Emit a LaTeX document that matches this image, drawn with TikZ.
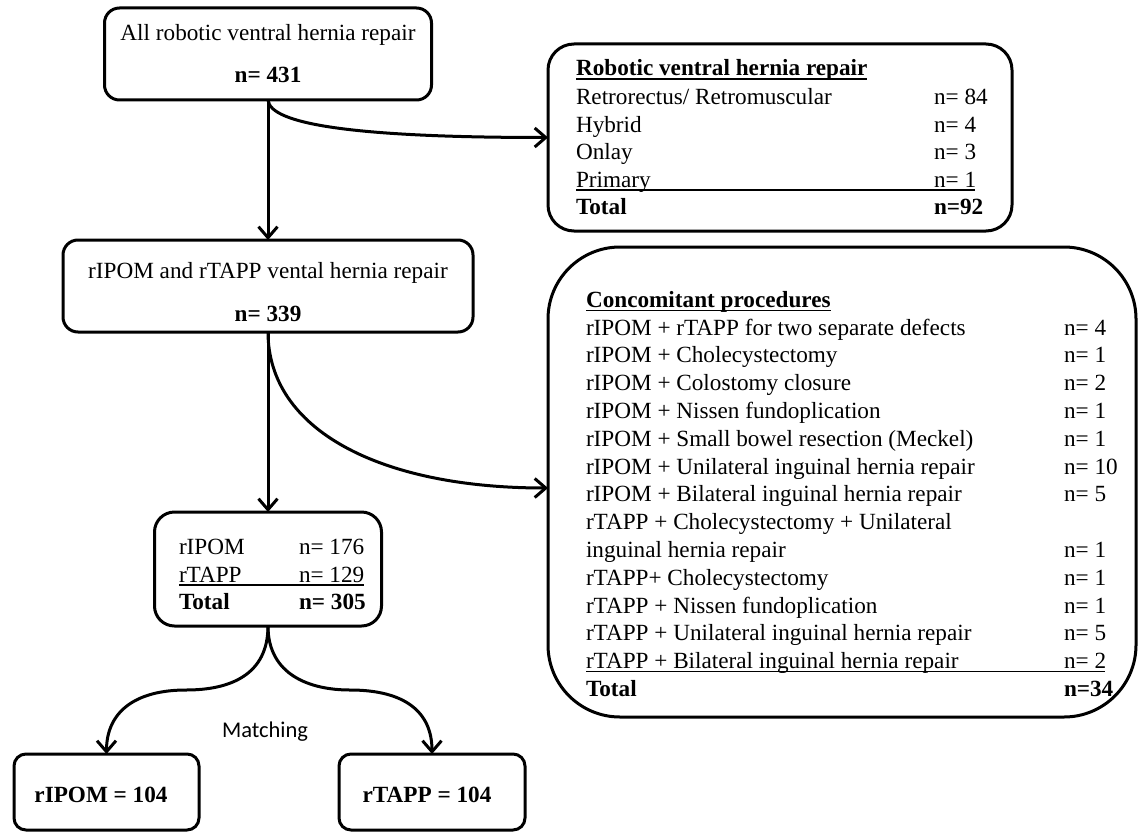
\documentclass[tikz,border=0pt]{standalone}
\usepackage{fontspec}
\setmainfont{Liberation Serif}
\newfontfamily\matchfont{Carlito}
\usetikzlibrary{arrows.meta}
\begin{document}
\begin{tikzpicture}[x=1pt,y=-1pt,
  box/.style={draw, line width=3pt, rounded corners=#1, inner sep=0pt, outer sep=0pt},
  box/.default=15pt,
  txt/.style={inner sep=0pt, outer sep=0pt, font=\fontsize{23.2}{27.6}\selectfont},
  btxt/.style={inner sep=0pt, outer sep=0pt, font=\fontsize{23.2}{27.6}\selectfont\bfseries},
  arr/.style={line width=3pt, -{Straight Barb[length=11pt,width=19pt]}},
  rulel/.style={line width=1.2pt}]
\useasboundingbox (0,0) rectangle (1139,832);
\fill[white] (0,0) rectangle (1139,832);

% boxes
\node[box, minimum width=327pt, minimum height=92pt] (b1) at (268,54) {};
\node[box, minimum width=410pt, minimum height=92pt] (b2) at (268,286) {};
\node[box=26pt, minimum width=464pt, minimum height=187pt] (sb) at (780,137.5) {};
\node[box=72pt, minimum width=588pt, minimum height=470pt] (cb) at (842,482) {};
\node[box=20pt, minimum width=227pt, minimum height=114pt] (b3) at (268,569) {};
\node[box=12pt, minimum width=185pt, minimum height=76pt] (bl) at (106.5,792) {};
\node[box=12pt, minimum width=186pt, minimum height=76pt] (br) at (432,792) {};

% box 1 and 2 text
\node[txt, anchor=base] (t1a) at (268,41) {All robotic ventral hernia repair};
\node[btxt, anchor=base] (t1b) at (268,83) {n= 431};
\node[txt, anchor=base] (t2a) at (268,278) {rIPOM and rTAPP vental hernia repair};
\node[btxt, anchor=base] (t2b) at (268,321) {n= 339};

% small box
\node[btxt, anchor=base west] (st) at (576,76) {Robotic ventral hernia repair};
\draw[rulel] ([yshift=-3pt]st.base west) -- ([yshift=-3pt]st.base east);
\node[txt, anchor=base west] (s1a) at (576,104.5) {Retrorectus/ Retromuscular};
\node[txt, anchor=base west] (s1b) at (934,104.5) {n= 84};
\node[txt, anchor=base west] (s2a) at (576,132) {Hybrid};
\node[txt, anchor=base west] (s2b) at (934,132) {n= 4};
\node[txt, anchor=base west] (s3a) at (576,159.5) {Onlay};
\node[txt, anchor=base west] (s3b) at (934,159.5) {n= 3};
\node[txt, anchor=base west] (s4a) at (576,187) {Primary};
\node[txt, anchor=base west] (s4b) at (934,187) {n= 1};
\draw[rulel] (576,190) -- (975,190);
\node[btxt, anchor=base west] (s5a) at (576,214.5) {Total};
\node[btxt, anchor=base west] (s5b) at (934,214.5) {n=92};

% concomitant box
\node[btxt, anchor=base west] (ct) at (586,307.5) {Concomitant procedures};
\draw[rulel] ([yshift=-3pt]ct.base west) -- ([yshift=-3pt]ct.base east);
\node[txt, anchor=base west] (c1a) at (586,335) {rIPOM + rTAPP for two separate defects};
\node[txt, anchor=base west] (c1b) at (1064,335) {n= 4};
\node[txt, anchor=base west] (c2a) at (586,362.8) {rIPOM + Cholecystectomy};
\node[txt, anchor=base west] (c2b) at (1064,362.8) {n= 1};
\node[txt, anchor=base west] (c3a) at (586,390.6) {rIPOM + Colostomy closure};
\node[txt, anchor=base west] (c3b) at (1064,390.6) {n= 2};
\node[txt, anchor=base west] (c4a) at (586,418.4) {rIPOM + Nissen fundoplication};
\node[txt, anchor=base west] (c4b) at (1064,418.4) {n= 1};
\node[txt, anchor=base west] (c5a) at (586,446.2) {rIPOM + Small bowel resection (Meckel)};
\node[txt, anchor=base west] (c5b) at (1064,446.2) {n= 1};
\node[txt, anchor=base west] (c6a) at (586,474) {rIPOM + Unilateral inguinal hernia repair};
\node[txt, anchor=base west] (c6b) at (1064,474) {n= 10};
\node[txt, anchor=base west] (c7a) at (586,501.8) {rIPOM + Bilateral inguinal hernia repair};
\node[txt, anchor=base west] (c7b) at (1064,501.8) {n= 5};
\node[txt, anchor=base west] (c8a) at (586,529.6) {rTAPP + Cholecystectomy + Unilateral};
\node[txt, anchor=base west] (c9a) at (586,557.4) {inguinal hernia repair};
\node[txt, anchor=base west] (c9b) at (1064,557.4) {n= 1};
\node[txt, anchor=base west] (c10a) at (586,585.2) {rTAPP+ Cholecystectomy};
\node[txt, anchor=base west] (c10b) at (1064,585.2) {n= 1};
\node[txt, anchor=base west] (c11a) at (586,613) {rTAPP + Nissen fundoplication};
\node[txt, anchor=base west] (c11b) at (1064,613) {n= 1};
\node[txt, anchor=base west] (c12a) at (586,640.8) {rTAPP + Unilateral inguinal hernia repair};
\node[txt, anchor=base west] (c12b) at (1064,640.8) {n= 5};
\node[txt, anchor=base west] (c13a) at (586,668.6) {rTAPP + Bilateral inguinal hernia repair};
\node[txt, anchor=base west] (c13b) at (1064,668.6) {n= 2};
\draw[rulel] (586,671.8) -- (1105,671.8);
\node[btxt, anchor=base west] (c14a) at (586,696.4) {Total};
\node[btxt, anchor=base west] (c14b) at (1064,696.4) {n=34};

% box 3 text
\node[txt, anchor=base west] (r1a) at (179,554) {rIPOM};
\node[txt, anchor=base west] (r1b) at (299,554) {n= 176};
\node[txt, anchor=base west] (r2a) at (179,582) {rTAPP};
\node[txt, anchor=base west] (r2b) at (299,582) {n= 129};
\draw[rulel] (179,585) -- (364,585);
\node[btxt, anchor=base west] (r3a) at (179,609) {Total};
\node[btxt, anchor=base west] (r3b) at (299,609) {n= 305};

% bottom boxes text
\node[btxt, anchor=base] (lt) at (101,802) {rIPOM = 104};
\node[btxt, anchor=base] (rt) at (427,802) {rTAPP = 104};
\node[inner sep=0pt, anchor=base, font=\matchfont\fontsize{22.5}{27}\selectfont] (match) at (265,737) {Matching};

% connectors
\coordinate (cbin) at (548,488);
\draw[arr] (b1.south) -- (b2.north);
\draw[arr] (b1.south) .. controls (270,125) and (360,137.5) .. (sb.west);
\draw[arr] (b2.south) -- (b3.north);
\draw[arr] (b2.south) .. controls (268,430) and (380,488) .. (cbin);
\draw[arr] (b3.south) .. controls (268,675) and (230,690) .. (186,690) .. controls (135,690) and (106.5,712) .. (bl.north);
\draw[arr] (b3.south) .. controls (268,675) and (310,690) .. (350,690) .. controls (405,690) and (432,712) .. (br.north);
\end{tikzpicture}
\end{document}
